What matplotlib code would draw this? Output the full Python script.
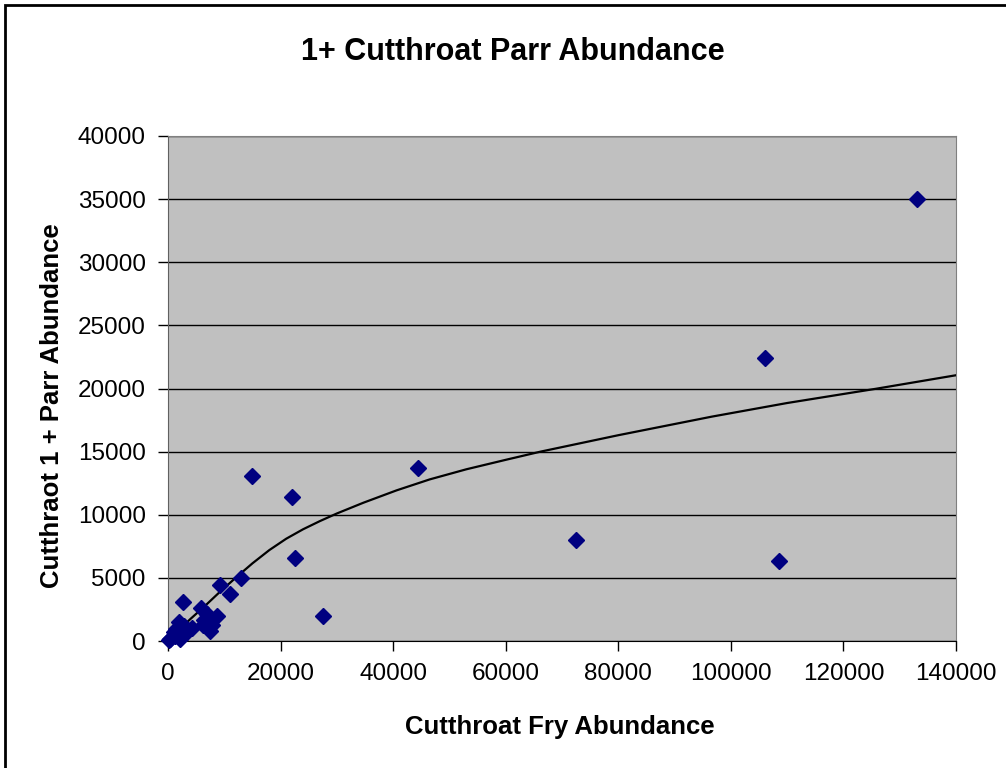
import matplotlib.pyplot as plt
from matplotlib.patches import Rectangle

# data
fry = [133000, 106000, 108500, 72500, 44500, 15000, 22000, 22500, 27500,
       13000, 9300, 11000, 2600, 5900, 8700, 6400, 7400, 7900, 1900,
       4300, 3300, 1000, 2100, 100, 1300, 6300, 400, 2800, 7000, 1500]
parr = [35000, 22400, 6300, 8000, 13700, 13100, 11400, 6600, 2000,
        5000, 4400, 3700, 3100, 2600, 2000, 1700, 800, 1300, 1500,
        1000, 700, 700, 150, 50, 400, 1250, 150, 1200, 2100, 950]

# trend line points
trend_x = [0, 2000, 4000, 6500, 9000, 12000, 15000, 18000, 21000, 24000, 27000,
           30000, 34700, 40600, 46500, 53000, 60000, 66200, 80000, 96600,
           110000, 125800, 140000]
trend_y = [0, 900, 1750, 2750, 3800, 5000, 6150, 7200, 8100, 8850, 9500,
           10100, 10950, 11930, 12800, 13600, 14350, 15000, 16300, 17770,
           18850, 19980, 21050]

plt.rcParams['font.family'] = ['Liberation Sans', 'DejaVu Sans']

fig = plt.figure(figsize=(10.06, 7.68), dpi=100)
ax = fig.add_axes([168/1006, 1 - 641/768, (956 - 168)/1006, (641 - 136)/768])

ax.set_facecolor('#c0c0c0')
ax.set_xlim(0, 140000)
ax.set_ylim(0, 40000)
ax.set_xticks(range(0, 140001, 20000))
ax.set_yticks(range(0, 40001, 5000))
ax.yaxis.grid(True, color='black', linewidth=1)
ax.set_axisbelow(True)

for s in ['top', 'right']:
    ax.spines[s].set_color('#808080')
ax.spines['left'].set_color('#606060')
ax.spines['bottom'].set_color('black')

ax.tick_params(direction='out', length=7, width=1, labelsize=17.5, pad=9)

ax.plot(trend_x, trend_y, color='black', linewidth=1.6, zorder=3)
ax.plot(fry, parr, linestyle='none', marker='D', markersize=8.5,
        color='#000080', zorder=4, clip_on=False)

ax.set_xlabel('Cutthroat Fry Abundance', fontsize=18.5, fontweight='bold', va='center')
ax.xaxis.set_label_coords(0.497, -0.170)
ax.set_ylabel('Cutthraot 1 + Parr Abundance', fontsize=18.5, fontweight='bold', va='center')
ax.yaxis.set_label_coords(-0.147, 0.467)
fig.text(513/1006, 1 - 52/768, '1+ Cutthroat Parr Abundance', ha='center', va='center',
         fontsize=22, fontweight='bold')

# outer chart frame
fig.patches.append(Rectangle((5/1006, -0.05), 1.1, 1 - 5/768 + 0.05,
                             transform=fig.transFigure, fill=False,
                             edgecolor='black', linewidth=2))

fig.savefig('out.png', dpi=100)
